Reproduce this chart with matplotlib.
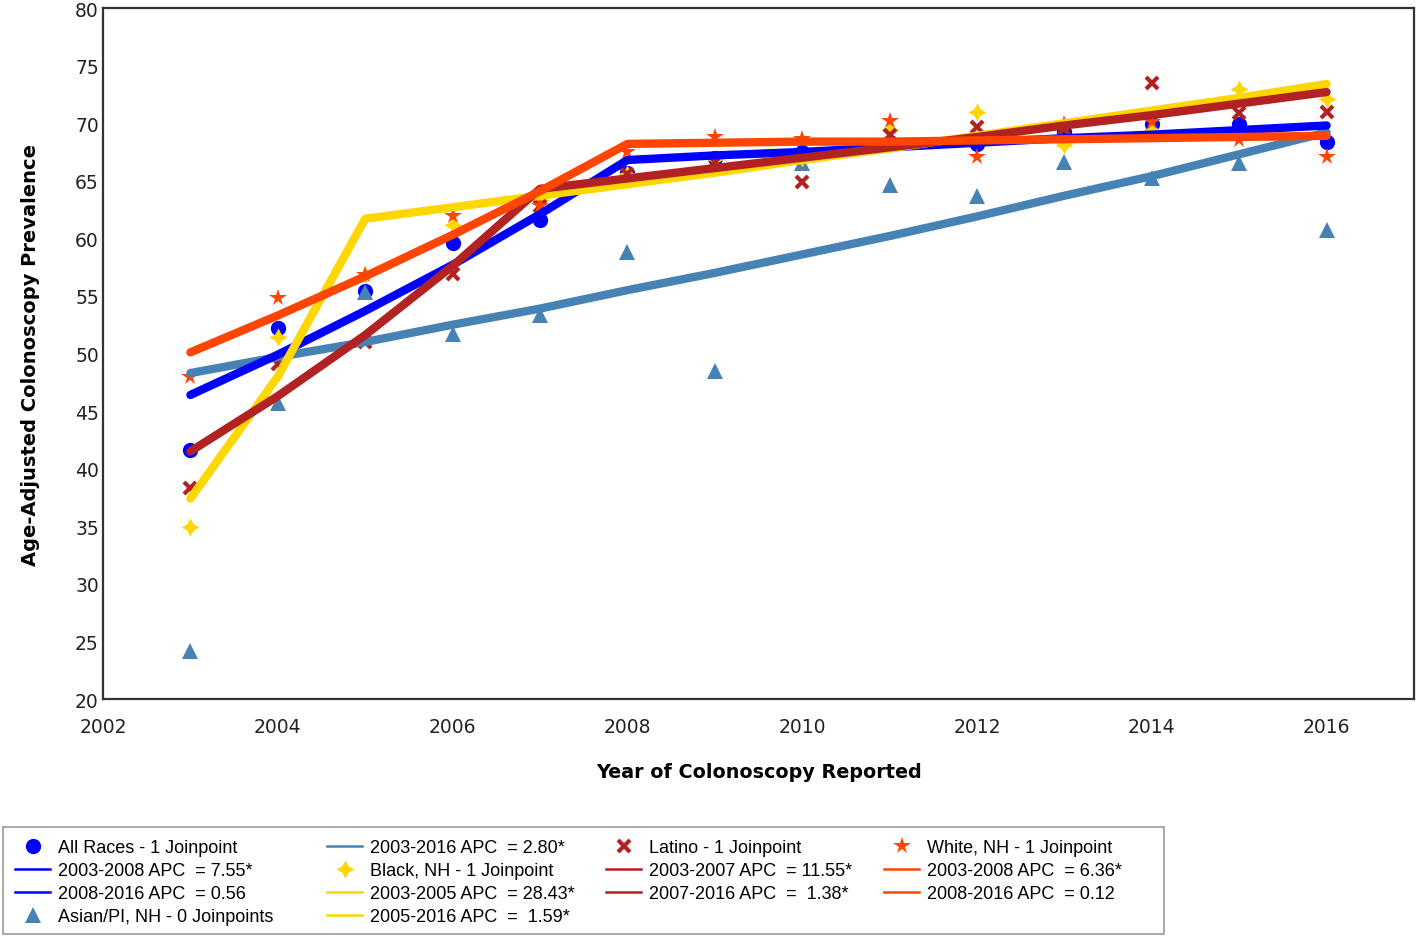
import matplotlib
matplotlib.use("Agg")
import matplotlib.pyplot as plt
from matplotlib.lines import Line2D
from matplotlib.patches import Rectangle

years = list(range(2003, 2017))

# observed (points)
obs_all = [41.6, 52.2, 55.4, 59.6, 61.6, 65.7, 67.0, 67.5, 68.4, 68.2, 69.2, 69.9, 69.9, 68.4]
obs_asian = [24.2, 45.7, 55.3, 51.7, 53.3, 58.8, 48.5, 66.5, 64.6, 63.7, 66.6, 65.2, 66.5, 60.7]
obs_black = [34.9, 51.4, 56.8, 61.2, 63.3, 65.6, 66.9, 67.0, 69.4, 71.0, 68.1, 69.4, 73.0, 72.1]
obs_latino = [38.3, 49.1, 51.0, 56.9, 62.8, 65.6, 66.6, 64.9, 69.0, 69.7, 69.5, 73.5, 70.9, 71.0]
obs_white = [48.0, 54.8, 56.8, 61.9, 62.8, 67.5, 68.8, 68.6, 70.2, 67.1, 69.9, 70.1, 68.5, 67.1]

# joinpoint fitted values
fit_all = [46.4, 49.9, 53.7, 57.7, 62.1, 66.8, 67.2, 67.5, 67.9, 68.3, 68.7, 69.0, 69.4, 69.8]
fit_asian = [48.3, 49.7, 51.0, 52.5, 53.9, 55.5, 57.0, 58.6, 60.2, 61.9, 63.7, 65.4, 67.3, 69.2]
fit_black = [37.4, 48.0, 61.7, 62.7, 63.7, 64.7, 65.7, 66.8, 67.8, 68.9, 70.0, 71.1, 72.2, 73.4]
fit_latino = [41.5, 46.3, 51.6, 57.6, 64.3, 65.2, 66.1, 67.0, 67.9, 68.8, 69.8, 70.7, 71.7, 72.7]
fit_white = [50.1, 53.3, 56.7, 60.3, 64.1, 68.2, 68.3, 68.4, 68.4, 68.5, 68.6, 68.7, 68.8, 68.9]

x_ticks = [2002, 2004, 2006, 2008, 2010, 2012, 2014, 2016]
y_ticks = [20, 25, 30, 35, 40, 45, 50, 55, 60, 65, 70, 75, 80]

legend_cols = [
    [("m", "All Races - 1 Joinpoint", "all"),
     ("l", "2003-2008 APC  = 7.55*", "all"),
     ("l", "2008-2016 APC  = 0.56", "all"),
     ("m", "Asian/PI, NH - 0 Joinpoints", "asian")],
    [("l", "2003-2016 APC  = 2.80*", "asian"),
     ("m", "Black, NH - 1 Joinpoint", "black"),
     ("l", "2003-2005 APC  = 28.43*", "black"),
     ("l", "2005-2016 APC  =  1.59*", "black")],
    [("m", "Latino - 1 Joinpoint", "latino"),
     ("l", "2003-2007 APC  = 11.55*", "latino"),
     ("l", "2007-2016 APC  =  1.38*", "latino")],
    [("m", "White, NH - 1 Joinpoint", "white"),
     ("l", "2003-2008 APC  = 6.36*", "white"),
     ("l", "2008-2016 APC  = 0.12", "white")],
]

colors = {"all": "#0000FF", "asian": "#4682B4", "black": "#FFD700",
          "latino": "#B22222", "white": "#FF4500"}
mstyle = {
    "all": dict(marker="o", ms=11, mew=0),
    "asian": dict(marker="^", ms=11.5, mew=0),
    "black": dict(marker=(4, 1, 0), ms=13, mew=0),
    "latino": dict(marker="x", ms=8.5, mew=3),
    "white": dict(marker="*", ms=13, mew=0),
}

W, H = 1418, 937
fig = plt.figure(figsize=(W / 100, H / 100), dpi=100)
ax = fig.add_axes([103 / W, 1 - 700 / H, (1414 - 103) / W, (700 - 9) / H])

obs = {"all": obs_all, "asian": obs_asian, "black": obs_black,
       "latino": obs_latino, "white": obs_white}
fits = {"all": fit_all, "asian": fit_asian, "black": fit_black,
        "latino": fit_latino, "white": fit_white}

zm = {"all": 2, "asian": 3, "black": 4, "latino": 5, "white": 6}
for k in ["all", "asian", "black", "latino", "white"]:
    ax.plot(years, obs[k], linestyle="none", color=colors[k],
            markerfacecolor=colors[k], markeredgecolor=colors[k],
            zorder=zm[k], **mstyle[k])

zl = {"asian": 10, "all": 11, "black": 12, "latino": 13, "white": 14}
for k in ["asian", "all", "black", "latino", "white"]:
    ax.plot(years, fits[k], color=colors[k], lw=6, solid_capstyle="round",
            solid_joinstyle="round", zorder=zl[k])

ax.set_xlim(2002, 2017)
ax.set_ylim(20, 80)
ax.set_xticks(x_ticks)
ax.set_yticks(y_ticks)
ax.tick_params(axis="x", length=0, labelsize=13.5, pad=13, labelcolor="#222222")
ax.tick_params(axis="y", length=0, labelsize=13.5, pad=3, labelcolor="#222222")
for s in ax.spines.values():
    s.set_color("#333333")
    s.set_linewidth(1.6)

ax.set_xlabel("Year of Colonoscopy Reported", fontsize=13.8, fontweight="bold")
ax.set_ylabel("Age-Adjusted Colonoscopy Prevalence", fontsize=14, fontweight="bold")
ax.xaxis.set_label_coords((759 - 103) / (1414 - 103), (700 - 763) / 691)
ax.yaxis.set_label_coords((40 - 103) / (1414 - 103), (700 - 355) / 691)

# legend frame
fig.patches.append(Rectangle((3 / W, 1 - 935 / H), (1164 - 3) / W, (935 - 828) / H,
                             transform=fig.transFigure, fill=False,
                             edgecolor="#999999", lw=1.2))

col_x = [15, 327, 606, 884]
for cx, col in zip(col_x, legend_cols):
    handles, labels = [], []
    for kind, lab, k in col:
        if kind == "m":
            h = Line2D([], [], linestyle="none", color=colors[k],
                       markerfacecolor=colors[k], markeredgecolor=colors[k],
                       **mstyle[k])
        else:
            h = Line2D([], [], color=colors[k], lw=1.8)
        handles.append(h)
        labels.append(lab)
    fig.legend(handles, labels, loc="upper left",
               bbox_to_anchor=(cx / W, 1 - 840 / H), bbox_transform=fig.transFigure,
               frameon=False, borderpad=0, borderaxespad=0,
               handlelength=1.95, handletextpad=0.45, labelspacing=0.33,
               prop={"family": "Liberation Sans", "size": 13})

fig.savefig("out.png", dpi=100)
